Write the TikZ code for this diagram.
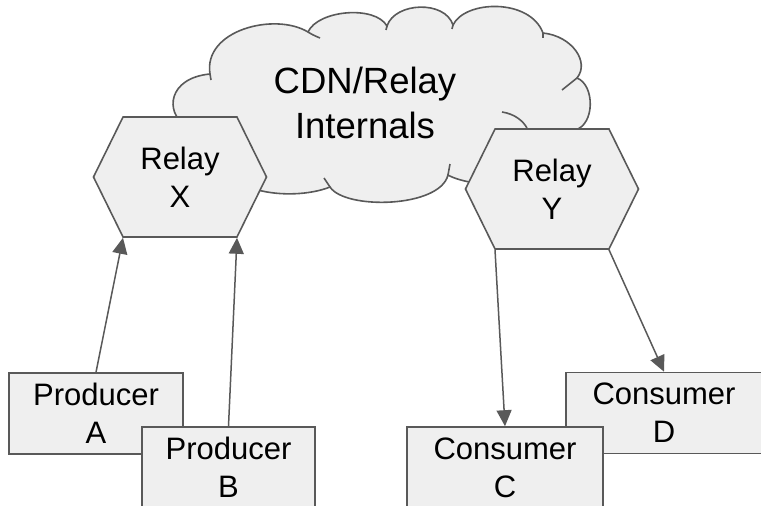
\documentclass[tikz,border=0pt]{standalone}
\usepackage{fontspec}
\setmainfont{Liberation Sans}
\usetikzlibrary{shapes.symbols,arrows.meta}
\definecolor{linegray}{HTML}{595959}
\definecolor{fillgray}{HTML}{EFEFEF}

\begin{document}
\begin{tikzpicture}[x=1pt, y=-1pt,
    cloudline/.style={draw=linegray, line width=1.6pt},
    box/.style={draw=linegray, line width=1.6pt, fill=fillgray, minimum width=#1,
        minimum height=81pt, inner sep=0pt, align=center, font=\fontsize{31}{38}\selectfont},
    relay/.style={shape=signal, signal to=east and west, signal pointer angle=127.6,
        draw=linegray, line width=1.6pt, fill=fillgray, minimum width=173pt,
        minimum height=120pt, inner sep=0pt, align=center, font=\fontsize{31}{38}\selectfont},
    flow/.style={draw=linegray, line width=1.5pt, -{Triangle[length=16pt,width=15pt]}}]
    \useasboundingbox (0,0) rectangle (761,506);
    % cloud
    \draw[cloudline, fill=fillgray] (185,125) .. controls (165,112) and (168,78) .. (210,74)
        .. controls (203,30) and (275,12) .. (308,32)
        .. controls (318,10) and (375,5) .. (387,26)
        .. controls (395,2) and (445,0) .. (453,25)
        .. controls (465,0) and (530,-2) .. (543,33)
        .. controls (572,36) and (590,62) .. (577,78)
        .. controls (595,85) and (595,125) .. (575,130)
        -- (520,185) .. controls (490,187) and (460,182) .. (448,175)
        .. controls (440,208) and (345,210) .. (330,187)
        .. controls (310,195) and (280,196) .. (258,190)
        -- (195,165) -- cycle;
    \draw[cloudline] (210,74) -- (211,80);
    \draw[cloudline] (308,32) .. controls (313,35) .. (320,38);
    \draw[cloudline] (387,26) -- (386,30);
    \draw[cloudline] (453,25) -- (452,29);
    \draw[cloudline] (543,33) -- (543,38);
    \draw[cloudline] (577,78) .. controls (570,84) .. (562,90);
    \draw[cloudline] (502,112) .. controls (515,114) and (523,121) .. (527,128);
    \draw[cloudline] (448,175) -- (450,164);
    \draw[cloudline] (330,187) -- (324,178);
    \node[font=\fontsize{36.5}{45}\selectfont, align=center] (cdn) at (365,102.5) {CDN/Relay\\Internals};

    \node[relay] (rx) at (180,177) {Relay\\X};
    \node[relay] (ry) at (552,189) {Relay\\Y};
    \node[box=174pt] (pa) at (96,413.5) {Producer\\A};
    \node[box=173pt] (pb) at (228.5,467.5) {Producer\\B};
    \node[box=196pt] (cd) at (664,413) {Consumer\\D};
    \node[box=196pt] (cc) at (505,467.5) {Consumer\\C};

    \draw[flow] (pa.north) -- ([xshift=-57pt]rx.south);
    \draw[flow] (pb.north) -- ([xshift=57pt]rx.south);
    \draw[flow] ([xshift=-57pt]ry.south) -- (cc.north);
    \draw[flow] ([xshift=57pt]ry.south) -- (cd.north);
\end{tikzpicture}
\end{document}
